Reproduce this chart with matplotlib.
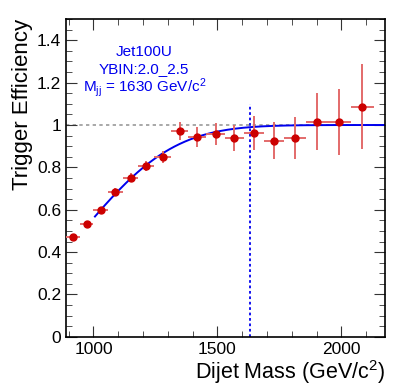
import math
import numpy as np
import matplotlib.pyplot as plt
from matplotlib.ticker import MultipleLocator

plt.rcParams["font.family"] = ["Liberation Sans", "DejaVu Sans"]
plt.rcParams["mathtext.fontset"] = "custom"
plt.rcParams["mathtext.rm"] = "Liberation Sans"
plt.rcParams["mathtext.it"] = "Liberation Sans:italic"

# dijet mass bin edges (GeV/c^2)
bin_edges = [890, 944, 1000, 1058, 1118, 1181, 1246, 1313, 1383, 1455,
             1530, 1607, 1687, 1770, 1856, 1945, 2037, 2132]

# trigger efficiency per bin and its error
eff = [0.473, 0.533, 0.597, 0.686, 0.752, 0.807, 0.850, 0.971, 0.945,
       0.959, 0.940, 0.963, 0.926, 0.940, 1.016, 1.014, 1.087]
eff_err = [0.010, 0.012, 0.014, 0.017, 0.022, 0.025, 0.028, 0.041, 0.047,
           0.052, 0.062, 0.079, 0.086, 0.100, 0.136, 0.156, 0.199]

# fit: 0.5 * (1 + erf((m - mu) / sigma))
fit_mu = 956.0
fit_sigma = 412.0
fit_start = 1006
m_99 = 1630

edges = np.array(bin_edges, dtype=float)
centers = 0.5 * (edges[:-1] + edges[1:])
half_w = 0.5 * (edges[1:] - edges[:-1])

fig = plt.figure(figsize=(4.06, 3.89), dpi=100)
ax = fig.add_axes([0.163, 0.134, 0.785, 0.817])

xmin, xmax = 890, 2175
ax.set_xlim(xmin, xmax)
ax.set_ylim(0, 1.5)

# reference line at 1
ax.plot([xmin, xmax], [1, 1], color="#999999", linestyle=(0, (2, 2)), linewidth=1.2, zorder=1)

# fit curve
xf = np.linspace(fit_start, xmax, 300)
yf = [0.5 * (1 + math.erf((x - fit_mu) / fit_sigma)) for x in xf]
ax.plot(xf, yf, color="#0000ee", linewidth=1.4, zorder=2)

# 99% point marker
ax.plot([m_99, m_99], [0, 1.1], color="#0000ee", linestyle=(0, (1.5, 1.5)), linewidth=1.3, zorder=2)

ax.errorbar(centers, eff, xerr=half_w, yerr=eff_err, fmt="none",
            ecolor="#e36a6a", elinewidth=1.4, capsize=0, zorder=3)
ax.plot(centers, eff, "o", color="#cc0000", markersize=5, zorder=4)

ax.text(1205, 1.345, "Jet100U", color="#0000ee", fontsize=11, ha="center", va="center")
ax.text(1205, 1.266, "YBIN:2.0_2.5", color="#0000ee", fontsize=11, ha="center", va="center")
ax.text(1205, 1.176, r"M$_{\rm jj}$ = 1630 GeV/c$^{2}$", color="#0000ee", fontsize=11,
        ha="center", va="center")

ax.xaxis.set_major_locator(MultipleLocator(500))
ax.xaxis.set_minor_locator(MultipleLocator(100))
ax.yaxis.set_major_locator(MultipleLocator(0.2))
ax.yaxis.set_minor_locator(MultipleLocator(0.05))
ax.tick_params(which="both", direction="in", top=True, right=True, labelsize=12.5,
               color="#333333")
ax.tick_params(which="major", length=8)
ax.tick_params(which="minor", length=4)
ax.set_yticks([0, 0.2, 0.4, 0.6, 0.8, 1.0, 1.2, 1.4])
ax.set_yticklabels(["0", "0.2", "0.4", "0.6", "0.8", "1", "1.2", "1.4"])
for s in ax.spines.values():
    s.set_linewidth(1.2)

ax.set_xlabel(r"Dijet Mass (GeV/c$^{2}$)", fontsize=15.5, loc="right", labelpad=1)
ax.set_ylabel("Trigger Efficiency", fontsize=16, loc="top", labelpad=3)

fig.savefig("out.png", dpi=100)
